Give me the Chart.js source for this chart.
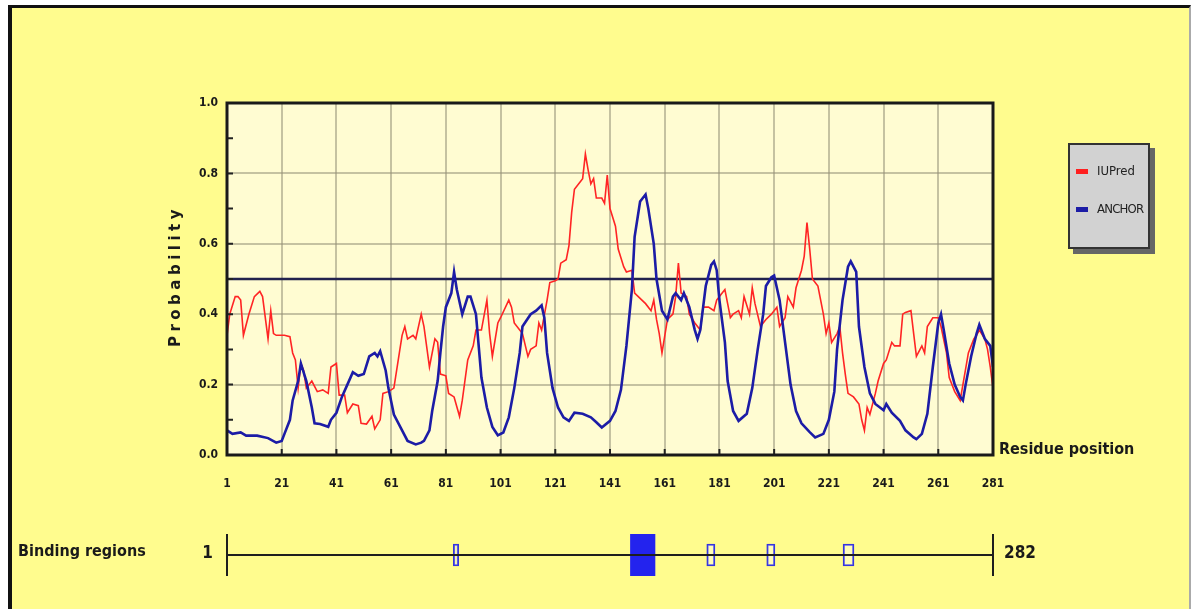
<!DOCTYPE html>
<html>
<head>
<meta charset="utf-8">
<script src="https://cdn.jsdelivr.net/npm/chart.js@4"></script>
<style>
  body { margin: 0; width: 1191px; height: 609px; overflow: hidden; position: relative; background: #fff; }
  #frame { position: absolute; left: 8px; top: 5px; width: 1177px; height: 620px; background: #fffc8e;
           border-left: 4px solid #111; border-top: 3px solid #111; border-right: 2px solid #aaa; }
  canvas { position: absolute; left: 0; }
  .lbl { position: absolute; font-family: "DejaVu Sans Condensed", sans-serif; font-weight: bold; color: #1a1a1a; white-space: nowrap; line-height: 1; }
  #ytitle { position: absolute; left: 96px; top: 266px; width: 160px; height: 20px; line-height: 20px; text-align: center;
            transform: rotate(-90deg); font: bold 15px "DejaVu Sans", sans-serif; letter-spacing: 4.5px; color: #1a1a1a; }
  #legend { position: absolute; left: 1068px; top: 143px; width: 78px; height: 102px; background: #d2d2d2;
            border: 2px solid #333; box-shadow: 5px 5px 0 #666; }
  .item { position: absolute; left: 0; font: 13px "DejaVu Sans Condensed", sans-serif; color: #222; }
  .sw { position: absolute; left: 6px; width: 12px; height: 5px; }
  .item span.t { position: absolute; left: 27px; white-space: nowrap; }
</style>
</head>
<body>
<div id="frame"></div>
<canvas id="main" width="1191" height="609" style="top:0"></canvas>
<canvas id="track" width="1191" height="70" style="top:520px"></canvas>

<div id="ytitle">Probability</div>
<div class="lbl" style="left:999px; top:441px; font-size:16px;">Residue position</div>
<div class="lbl" style="left:18px; top:543px; font-size:16px;">Binding regions</div>
<div class="lbl" style="left:199px; top:544px; width:14px; text-align:right; font-size:17px;">1</div>
<div class="lbl" style="left:1004px; top:544px; font-size:17px;">282</div>

<div id="legend">
  <div class="item" style="top:22px;"><div class="sw" style="background:#ff1f1f; top:2px;"></div><span class="t" style="top:-4px;">IUPred</span></div>
  <div class="item" style="top:60px;"><div class="sw" style="background:#1c1ca6; top:2px;"></div><span class="t" style="top:-4px; letter-spacing:-0.8px;">ANCHOR</span></div>
</div>

<script>
// residue ticks and probability ticks
const xTicks = [1, 21, 41, 61, 81, 101, 121, 141, 161, 181, 201, 221, 241, 261, 281];
const yTicks = [0, 0.2, 0.4, 0.6, 0.8, 1.0];
const cutoff = 0.5;
const seqLength = 282;

// [residue, score]
const iupred = [
  [1, .34], [2, .40], [4, .45], [5, .45], [6, .44], [7, .34], [9, .40], [11, .45], [13, .465], [14, .45],
  [16, .33], [17, .41], [18, .345], [19, .34], [22, .34], [24, .336], [25, .29], [26, .27], [27, .19], [28, .26],
  [29, .24], [30, .19], [32, .21], [34, .18], [36, .185], [38, .175], [39, .25], [41, .26], [42, .17], [44, .17],
  [45, .12], [47, .145], [49, .14], [50, .09], [52, .088], [54, .11], [55, .074], [57, .10], [58, .175], [60, .18],
  [62, .19], [64, .29], [65, .34], [66, .365], [67, .33], [69, .34], [70, .33], [72, .40], [73, .365], [75, .25],
  [77, .33], [78, .32], [79, .23], [81, .225], [82, .175], [84, .165], [86, .11], [87, .155], [89, .27], [91, .31],
  [92, .355], [94, .355], [96, .44], [97, .345], [98, .28], [100, .375], [101, .39], [104, .44], [105, .42], [106, .375],
  [108, .355], [109, .345], [111, .28], [112, .30], [114, .31], [115, .375], [116, .355], [118, .44], [119, .49], [121, .495],
  [122, .50], [123, .545], [125, .555], [126, .595], [127, .69], [128, .755], [130, .775], [131, .785], [132, .855], [133, .81],
  [134, .77], [135, .785], [136, .73], [138, .73], [139, .715], [140, .795], [141, .70], [143, .65], [144, .585], [146, .535],
  [147, .52], [149, .525], [150, .46], [152, .445], [154, .43], [156, .41], [157, .44], [158, .385], [159, .345], [160, .29],
  [162, .385], [164, .40], [165, .45], [166, .545], [167, .46], [169, .45], [170, .40], [172, .375], [174, .355], [175, .42],
  [177, .42], [179, .41], [180, .44], [182, .46], [183, .47], [185, .39], [186, .40], [188, .41], [189, .39], [190, .45],
  [192, .40], [193, .475], [194, .43], [196, .365], [198, .385], [200, .40], [202, .42], [203, .365], [205, .39], [206, .45],
  [208, .42], [209, .475], [211, .525], [212, .565], [213, .66], [214, .585], [215, .50], [217, .48], [219, .40], [220, .345],
  [221, .375], [222, .32], [224, .345], [225, .365], [226, .29], [227, .23], [228, .175], [230, .165], [232, .145], [233, .10],
  [234, .07], [235, .135], [236, .115], [238, .175], [239, .21], [241, .26], [242, .27], [244, .32], [245, .31], [247, .31],
  [248, .40], [249, .405], [251, .41], [252, .345], [253, .28], [255, .31], [256, .29], [257, .365], [259, .39], [261, .39],
  [262, .365], [264, .29], [265, .22], [267, .18], [269, .155], [270, .20], [272, .29], [274, .33], [275, .34], [276, .355],
  [278, .33], [279, .30], [280, .25], [281, .19]
];

const anchor = [
  [1, .07], [3, .06], [6, .064], [8, .055], [12, .055], [16, .048], [19, .035], [21, .04], [22, .06], [24, .10],
  [25, .155], [27, .21], [28, .26], [30, .21], [32, .135], [33, .09], [35, .088], [38, .08], [39, .10], [41, .12],
  [43, .165], [45, .20], [47, .235], [49, .225], [51, .23], [53, .28], [55, .29], [56, .28], [57, .295], [59, .24],
  [60, .19], [62, .115], [65, .07], [67, .04], [70, .03], [72, .035], [73, .04], [75, .07], [76, .125], [78, .21],
  [79, .29], [80, .365], [81, .42], [83, .46], [84, .52], [85, .47], [87, .40], [89, .45], [90, .45], [92, .40],
  [93, .31], [94, .22], [96, .135], [98, .08], [100, .056], [102, .064], [104, .107], [106, .19], [108, .29], [109, .365],
  [112, .40], [114, .41], [116, .425], [117, .39], [118, .29], [120, .19], [122, .135], [124, .107], [126, .097], [128, .12],
  [131, .117], [134, .107], [136, .093], [138, .078], [141, .097], [143, .125], [145, .185], [147, .31], [149, .47], [150, .62],
  [152, .72], [154, .74], [155, .70], [157, .60], [158, .50], [160, .41], [162, .385], [164, .45], [165, .46], [167, .44],
  [168, .46], [170, .42], [172, .355], [173, .33], [174, .355], [176, .48], [178, .54], [179, .55], [180, .525], [181, .44],
  [183, .32], [184, .21], [186, .125], [188, .097], [191, .117], [193, .19], [195, .30], [197, .40], [198, .48], [200, .505],
  [201, .51], [203, .44], [205, .32], [207, .20], [209, .125], [211, .09], [214, .065], [216, .05], [219, .06], [221, .10],
  [223, .18], [224, .30], [226, .44], [228, .535], [229, .55], [231, .52], [232, .365], [234, .25], [236, .175], [238, .145],
  [241, .127], [242, .145], [244, .12], [247, .097], [249, .07], [252, .05], [253, .045], [255, .06], [257, .117], [259, .25],
  [261, .375], [262, .40], [263, .355], [265, .26], [267, .20], [269, .165], [270, .155], [271, .20], [273, .28], [275, .345],
  [276, .37], [278, .33], [280, .31], [281, .25]
];

// binding regions along the sequence
const regionStart = [84, 149, 177, 199, 227];
const regionEnd = [86, 158, 180, 202, 231];
const regionFilled = [false, true, false, false, false];

const tickFont = { family: '"DejaVu Sans Condensed", sans-serif', size: 12, weight: 'bold' };

// plot background, frame and the short inner tick marks
const plotFrame = {
  id: 'plotFrame',
  beforeDraw(chart) {
    const { ctx, chartArea: a } = chart;
    ctx.save();
    ctx.fillStyle = '#fffcd2';
    ctx.fillRect(a.left, a.top, a.right - a.left, a.bottom - a.top);
    ctx.restore();
  },
  afterDraw(chart) {
    const { ctx, chartArea: a, scales } = chart;
    ctx.save();
    ctx.strokeStyle = '#222';
    ctx.lineWidth = 2;
    ctx.beginPath();
    xTicks.forEach(v => {
      const px = scales.x.getPixelForValue(v);
      ctx.moveTo(px, a.bottom); ctx.lineTo(px, a.bottom - 6);
    });
    for (let v = 0.1; v < 1; v += 0.1) {
      const py = scales.y.getPixelForValue(v);
      ctx.moveTo(a.left, py); ctx.lineTo(a.left + 6, py);
    }
    ctx.stroke();
    ctx.lineWidth = 3;
    ctx.strokeStyle = '#1a1a1a';
    ctx.strokeRect(a.left, a.top, a.right - a.left, a.bottom - a.top);
    ctx.restore();
  }
};

new Chart(document.getElementById('main').getContext('2d'), {
  type: 'line',
  data: {
    datasets: [
      {
        label: 'ANCHOR',
        data: anchor.map(([x, y]) => ({ x, y })),
        borderColor: '#1c1ca6',
        borderWidth: 2.6,
        pointRadius: 0,
        order: 0
      },
      {
        label: 'IUPred',
        data: iupred.map(([x, y]) => ({ x, y })),
        borderColor: '#ff2424',
        borderWidth: 1.6,
        pointRadius: 0,
        order: 1
      },
      {
        label: 'cutoff',
        data: [{ x: xTicks[0], y: cutoff }, { x: xTicks[xTicks.length - 1], y: cutoff }],
        borderColor: '#22224e',
        borderWidth: 2.4,
        pointRadius: 0,
        order: 2
      }
    ]
  },
  options: {
    responsive: false,
    animation: false,
    layout: { padding: { left: 167, right: 198, top: 103, bottom: 114 } },
    plugins: { legend: { display: false }, tooltip: { enabled: false } },
    scales: {
      x: {
        type: 'linear',
        min: xTicks[0],
        max: xTicks[xTicks.length - 1],
        afterFit: s => { s.height = 40; },
        afterBuildTicks: s => { s.ticks = xTicks.map(v => ({ value: v })); },
        ticks: { font: tickFont, color: '#1a1a1a', padding: 22, autoSkip: false, maxRotation: 0, callback: v => String(v) },
        grid: { color: 'rgba(150,145,120,0.55)', lineWidth: 2, drawTicks: false },
        border: { display: false }
      },
      y: {
        min: 0,
        max: 1,
        afterFit: s => { s.width = 60; },
        afterBuildTicks: s => { s.ticks = yTicks.map(v => ({ value: v })); },
        ticks: { font: tickFont, color: '#1a1a1a', padding: 9, callback: v => v.toFixed(1) },
        grid: { color: 'rgba(150,145,120,0.55)', lineWidth: 2, drawTicks: false },
        border: { display: false }
      }
    }
  },
  plugins: [plotFrame]
});

// sequence line with end marks, drawn over the region boxes
const trackLine = {
  id: 'trackLine',
  afterDatasetsDraw(chart) {
    const { ctx, chartArea: a, scales } = chart;
    const x0 = scales.x.getPixelForValue(1);
    const x1 = scales.x.getPixelForValue(seqLength);
    const yc = (a.top + a.bottom) / 2;
    ctx.save();
    ctx.strokeStyle = '#1e1e1e';
    ctx.lineWidth = 2;
    ctx.beginPath();
    ctx.moveTo(x0, yc); ctx.lineTo(x1, yc);
    ctx.moveTo(x0, a.top); ctx.lineTo(x0, a.bottom);
    ctx.moveTo(x1, a.top); ctx.lineTo(x1, a.bottom);
    ctx.stroke();
    ctx.restore();
  }
};

new Chart(document.getElementById('track').getContext('2d'), {
  type: 'bar',
  data: {
    labels: ['regions'],
    datasets: regionStart.map((s, i) => ({
      data: [[s, regionEnd[i]]],
      backgroundColor: regionFilled[i] ? '#2323ee' : 'rgba(255,255,255,0.35)',
      borderColor: regionFilled[i] ? '#2323ee' : '#3535dd',
      borderWidth: regionFilled[i] ? 0 : 1.5,
      borderSkipped: false,
      barThickness: regionFilled[i] ? 42 : 22,
      grouped: false
    }))
  },
  options: {
    indexAxis: 'y',
    responsive: false,
    animation: false,
    layout: { padding: { left: 227, right: 198, top: 14, bottom: 14 } },
    plugins: { legend: { display: false }, tooltip: { enabled: false } },
    scales: {
      x: { type: 'linear', min: 1, max: seqLength, display: false },
      y: { display: false }
    }
  },
  plugins: [trackLine]
});
</script>
</body>
</html>
